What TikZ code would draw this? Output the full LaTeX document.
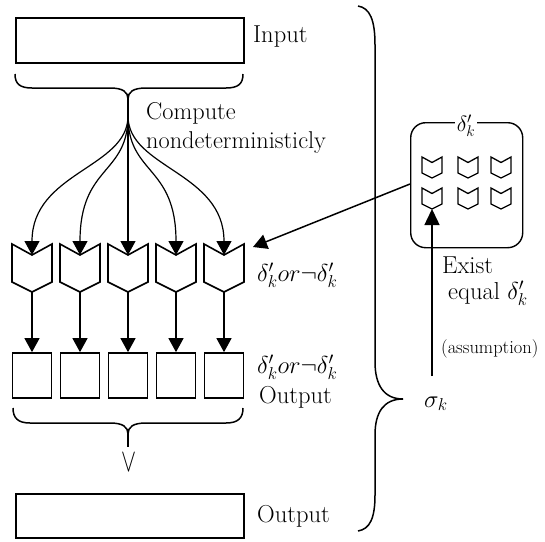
\RequirePackage{fix-cm}
\documentclass[tikz,border=0pt]{standalone}
\usepackage{fontspec}
\usepackage{graphicx}
\usetikzlibrary{arrows.meta}
\begin{document}
\begin{tikzpicture}[x=1pt,y=-1pt,
  box/.style={draw,line width=1.7pt,inner sep=0pt},
  lbl/.style={inner sep=0pt,anchor=base west,font=\fontsize{24.5}{28}\selectfont},
  clbl/.style={inner sep=0pt,anchor=base west,font=\fontsize{24.3}{28}\selectfont},
  shieldline/.style={line width=1.6pt,line join=miter},
  arr/.style={line width=1.2pt,-{Triangle[width=15pt,length=14pt]}},
  bracestyle/.style={line width=1.5pt}
]
\useasboundingbox (0,0) rectangle (545,541);

% input
\node[box,minimum width=228pt,minimum height=45pt,anchor=north west] (in) at (15,17) {};
\node[lbl] (inlbl) at (253,42) {Input};

% brace under input
\draw[bracestyle] (15,74) .. controls (15,84) and (20,88) .. (32,88) -- (110,88)
  .. controls (123,88) and (128,92) .. (128,99)
  .. controls (128,92) and (133,88) .. (146,88) -- (226,88)
  .. controls (238,88) and (243,84) .. (243,74);
\coordinate (ct) at (128,99);
\node[clbl] (comp) at (146,119) {Compute};
\node[clbl] (nondet) at (146,148) {nondeterministicly};

% shields, squares
\foreach \i/\c in {1/32,2/80,3/128,4/176,5/224}{
  \draw[shieldline] (\c-20,244) -- (\c,255) -- (\c+20,244) -- (\c+20,282) -- (\c,292) -- (\c-20,282) -- cycle;
  \coordinate (n\i) at (\c,255);
  \coordinate (t\i) at (\c,292);
  \node[box,minimum width=39pt,minimum height=45pt] (q\i) at (\c,375.5) {};
  \draw[arr] (t\i) -- (q\i.north);
}
\draw[arr] (ct) -- (128,116) .. controls (128,168) and (32,172) .. (n1);
\draw[arr] (ct) -- (128,116) .. controls (128,175) and (80,165) .. (n2);
\draw[arr] (ct) -- (n3);
\draw[arr] (ct) -- (128,116) .. controls (128,175) and (176,165) .. (n4);
\draw[arr] (ct) -- (128,116) .. controls (128,168) and (224,172) .. (n5);

\node[lbl] (or1) at (257,281) {$\delta'_k or \neg\delta'_k$};
\node[lbl] (or2) at (257,373) {$\delta'_k or \neg\delta'_k$};
\node[lbl] (out1) at (259,403) {Output};

% bottom brace
\draw[bracestyle] (13,408) .. controls (13,418) and (18,423) .. (30,423) -- (110,423)
  .. controls (123,423) and (128,427) .. (128,434)
  .. controls (128,427) and (133,423) .. (146,423) -- (226,423)
  .. controls (238,423) and (243,418) .. (243,408);
\draw[bracestyle] (128,434) -- (128,447);
\node[inner sep=0pt,font=\fontsize{22.5}{26}\selectfont] (vee) at (128.5,462) {\scalebox{1}[1.45]{$\vee$}};

% output
\node[box,minimum width=228pt,minimum height=44pt,anchor=north west] (out) at (15,493) {};
\node[lbl] (outlbl) at (257,522) {Output};

% big right brace
\draw[bracestyle] (358,6) .. controls (370,8) and (375,20) .. (375,45) -- (375,362)
  .. controls (375,385) and (384,399) .. (403,399);
\draw[bracestyle] (403,399) .. controls (384,399) and (375,412) .. (375,435) -- (375,495)
  .. controls (375,518) and (370,529) .. (358,531);
\node[lbl] (sigma) at (424,407) {$\sigma_k$};

% pool box
\node[draw,rounded corners=15pt,line width=1.4pt,minimum width=112pt,minimum height=125pt,anchor=north west,inner sep=0pt] (pool) at (410,122) {};
\node[fill=white,inner sep=1.5pt,font=\fontsize{22}{26}\selectfont] (pooltitle) at (466,126) {$\delta'_k$};
\foreach \c in {432,468,501}{
  \foreach \y in {157,188}{
    \draw[line width=1.3pt,line join=miter] (\c-10,\y) -- (\c,\y+5.5) -- (\c+10,\y) -- (\c+10,\y+16) -- (\c,\y+21) -- (\c-10,\y+16) -- cycle;
  }
}
\coordinate (ptip) at (432,209);
\coordinate (abot) at (432,376);
\draw[line width=1.5pt,-{Triangle[width=15pt,length=16pt]}] (abot) -- (ptip);
\draw[line width=1.5pt,-{Triangle[width=15pt,length=14pt]}] (pool.west |- 0,184) -- (253,247);

\node[lbl] (exist) at (442,273) {Exist};
\node[lbl] (equal) at (448,299) {equal $\delta'_k$};
\node[inner sep=0pt,anchor=base west,font=\fontsize{18.5}{22}\selectfont] (assum) at (441,353) {(assumption)};
\end{tikzpicture}
\end{document}
